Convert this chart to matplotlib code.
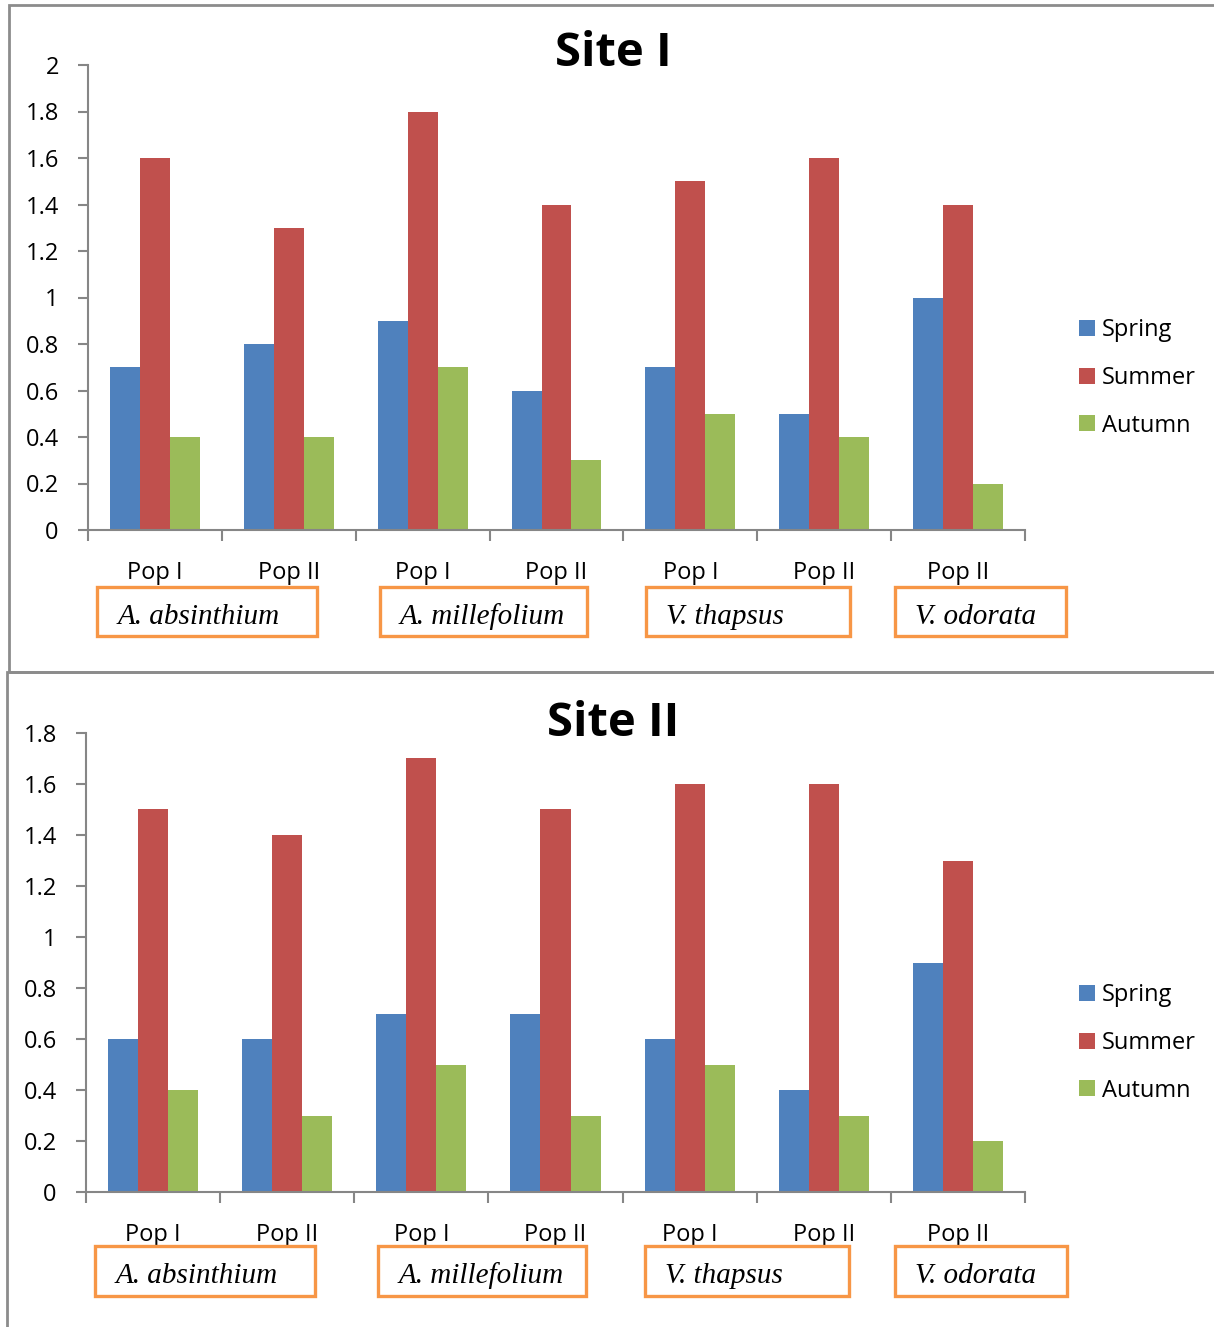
import numpy as np
import matplotlib.pyplot as plt
from matplotlib.patches import Rectangle
from matplotlib.transforms import blended_transform_factory

# dados
grupos = ["Pop I", "Pop II", "Pop I", "Pop II", "Pop I", "Pop II", "Pop II"]
especies = ["A. absinthium", "A. millefolium", "V. thapsus", "V. odorata"]
estacoes = ["Spring", "Summer", "Autumn"]

site1_spring = [0.7, 0.8, 0.9, 0.6, 0.7, 0.5, 1.0]
site1_summer = [1.6, 1.3, 1.8, 1.4, 1.5, 1.6, 1.4]
site1_autumn = [0.4, 0.4, 0.7, 0.3, 0.5, 0.4, 0.2]

site2_spring = [0.6, 0.6, 0.7, 0.7, 0.6, 0.4, 0.9]
site2_summer = [1.5, 1.4, 1.7, 1.5, 1.6, 1.6, 1.3]
site2_autumn = [0.4, 0.3, 0.5, 0.3, 0.5, 0.3, 0.2]

CORES = ["#4F81BD", "#C0504D", "#9BBB59"]
LARANJA = "#F79646"
CINZA = "#868686"
FONTE = ["Liberation Sans Narrow", "DejaVu Sans Condensed", "Open Sans", "DejaVu Sans"]
SERIFA = ["Liberation Serif", "DejaVu Serif"]

W, H = 1214, 1327
fig = plt.figure(figsize=(W / 100, H / 100), dpi=100)


def fx(px):
    return px / W


def fy(py):
    return 1 - py / H


# caixas das especies: (esquerda, largura) em unidades de grupo
caixas = [(-0.43, 1.64), (1.68, 1.55), (3.67, 1.52), (5.53, 1.28)]


def desenha_site(left, right, top, bottom, series, ymax, titulo, titulo_y,
                 caixa_top, caixa_bot, leg_y):
    ax = fig.add_axes([fx(left), fy(bottom), fx(right - left), fy(top) - fy(bottom)])
    x = np.arange(len(grupos))
    w = 0.224
    for i, (vals, cor, nome) in enumerate(zip(series, CORES, estacoes)):
        ax.bar(x + (i - 1) * w, vals, width=w, color=cor, label=nome)

    ax.set_xlim(-0.5, len(grupos) - 0.5)
    ax.set_ylim(0, ymax)
    ticks = np.round(np.arange(0, ymax + 0.01, 0.2), 1)
    ax.set_yticks(ticks)
    ax.set_yticklabels([("%g" % t) for t in ticks], family=FONTE, fontsize=17)

    ax.set_xticks(np.arange(-0.5, len(grupos), 1.0))
    ax.set_xticklabels([])
    ax.set_xticks(x, minor=True)
    ax.set_xticklabels(grupos, minor=True, family=FONTE, fontsize=17)
    ax.tick_params(axis="x", which="major", length=8, color=CINZA, width=1.5)
    ax.tick_params(axis="x", which="minor", length=0, pad=22)
    ax.tick_params(axis="y", length=7, color=CINZA, width=1.5, pad=14)

    for s in ["top", "right"]:
        ax.spines[s].set_visible(False)
    for s in ["left", "bottom"]:
        ax.spines[s].set_color(CINZA)
        ax.spines[s].set_linewidth(1.5)

    fig.text(fx(613), fy(titulo_y), titulo, ha="center", va="center",
             family=FONTE, fontsize=34, fontweight="bold")

    trans = blended_transform_factory(ax.transData, fig.transFigure)
    for nome, (x0, largura) in zip(especies, caixas):
        r = Rectangle((x0, fy(caixa_bot)), largura, fy(caixa_top) - fy(caixa_bot),
                      transform=trans, fill=False, edgecolor=LARANJA, lw=2.4,
                      clip_on=False)
        fig.add_artist(r)
        fig.text(x0 + 0.15, fy((caixa_top + caixa_bot) / 2 + 5), nome,
                 transform=trans, ha="left", va="center", family=SERIFA,
                 style="italic", fontsize=21)

    fig.legend(*ax.get_legend_handles_labels(), loc="center left",
               bbox_to_anchor=(fx(1070), fy(leg_y)), frameon=False,
               prop={"family": FONTE, "size": 17}, handlelength=0.65,
               handleheight=0.65, handletextpad=0.3, labelspacing=1.0,
               borderaxespad=0)
    return ax


desenha_site(88, 1025, 65, 530, [site1_spring, site1_summer, site1_autumn],
             2.0, "Site I", 54, 587, 636, 378)
desenha_site(86, 1025, 733, 1192, [site2_spring, site2_summer, site2_autumn],
             1.8, "Site II", 724, 1246, 1296, 1043)

# molduras dos paineis
fig.add_artist(Rectangle((fx(9), fy(672)), 1.0, fy(5) - fy(672),
                         transform=fig.transFigure, fill=False,
                         edgecolor="#8c8c8c", lw=2))
fig.add_artist(Rectangle((fx(7), fy(1340)), 1.0, fy(672) - fy(1340),
                         transform=fig.transFigure, fill=False,
                         edgecolor="#8c8c8c", lw=2, clip_on=False))

fig.savefig("out.png", dpi=100)
